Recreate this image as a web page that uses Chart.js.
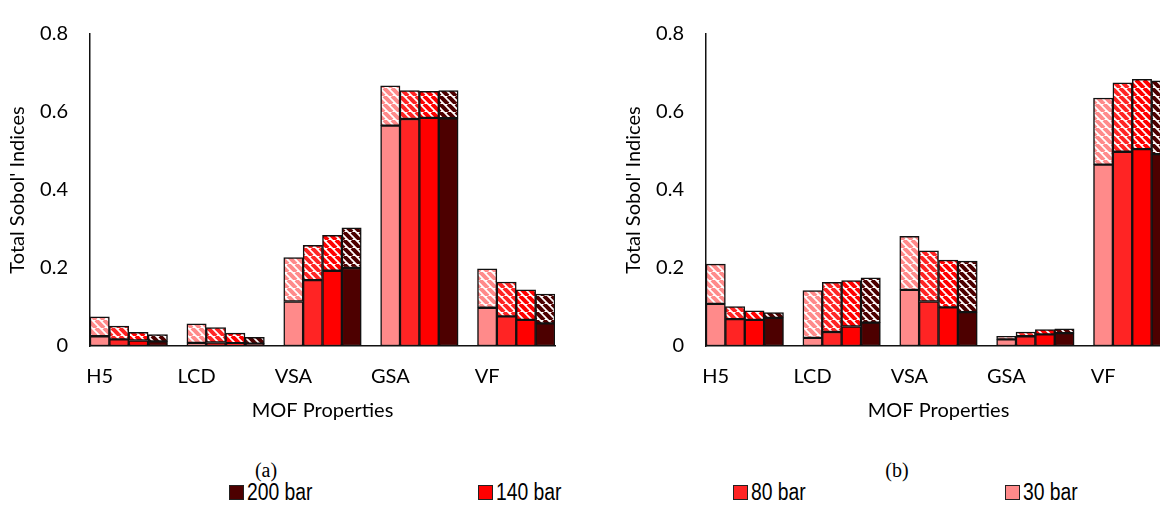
<!DOCTYPE html>
<html>
<head>
<meta charset="utf-8">
<script src="https://cdn.jsdelivr.net/npm/chart.js@4/dist/chart.umd.min.js"></script>
<style>
  body { margin: 0; background: #fff; }
  #page { position: relative; width: 1160px; height: 531px; overflow: hidden; background: #fff; }
  .chart-box { position: absolute; top: 0; width: 575px; height: 430px; }
  .caption { position: absolute; top: 459px; font-family: "Liberation Serif", serif; font-size: 20px; color: #000; transform: translateX(-50%); }
  .legend-item { position: absolute; top: 478px; height: 28px; display: flex; align-items: center;
                 font-family: "Liberation Sans", sans-serif; font-size: 23px; color: #000; }
  .legend-item span.sw { display: inline-block; width: 13px; height: 13px; border: 1.5px solid #222; margin-right: 3px; }
  .legend-item span.tx { display: inline-block; transform: scaleX(0.84); transform-origin: left center; }
</style>
</head>
<body>
<div id="page">
  <div class="chart-box" style="left:0px"><canvas id="chartA"></canvas></div>
  <div class="chart-box" style="left:616px"><canvas id="chartB"></canvas></div>
  <div class="caption" style="left:266px">(a)</div>
  <div class="caption" style="left:897px">(b)</div>
  <div id="legend"></div>
</div>
<script>
// ------------------------------------------------------------
//  Data
// ------------------------------------------------------------
const properties = ['H5', 'LCD', 'VSA', 'GSA', 'VF'];
const pressures  = ['30 bar', '80 bar', '140 bar', '200 bar'];
const colors     = ['#ff8a8a', '#ff2424', '#ff0000', '#4d0000'];
const yTicks     = [0, 0.2, 0.4, 0.6, 0.8];

// (a) — first-order part (solid) and total index (top of hatched part)
const a30First  = [0.025, 0.008, 0.114, 0.565, 0.098];
const a30Total  = [0.075, 0.057, 0.227, 0.667, 0.198];
const a80First  = [0.017, 0.009, 0.169, 0.582, 0.076];
const a80Total  = [0.051, 0.047, 0.258, 0.655, 0.164];
const a140First = [0.014, 0.007, 0.193, 0.585, 0.067];
const a140Total = [0.035, 0.033, 0.284, 0.653, 0.144];
const a200First = [0.012, 0.006, 0.200, 0.584, 0.058];
const a200Total = [0.029, 0.022, 0.303, 0.655, 0.133];

// (b)
const b30First  = [0.108, 0.021, 0.144, 0.017, 0.465];
const b30Total  = [0.210, 0.142, 0.281, 0.025, 0.636];
const b80First  = [0.069, 0.036, 0.114, 0.025, 0.498];
const b80Total  = [0.101, 0.163, 0.244, 0.036, 0.675];
const b140First = [0.067, 0.050, 0.099, 0.030, 0.505];
const b140Total = [0.090, 0.168, 0.220, 0.042, 0.684];
const b200First = [0.072, 0.060, 0.087, 0.033, 0.492];
const b200Total = [0.086, 0.175, 0.218, 0.044, 0.680];

// ------------------------------------------------------------
//  Helpers
// ------------------------------------------------------------
function hatch(color) {
  const c = document.createElement('canvas');
  c.width = 8; c.height = 8;
  const ctx = c.getContext('2d');
  ctx.fillStyle = '#fff';
  ctx.fillRect(0, 0, 8, 8);
  ctx.strokeStyle = color;
  ctx.lineWidth = 4;
  [-8, 0, 8].forEach((o) => {
    ctx.beginPath();
    ctx.moveTo(o, 0);
    ctx.lineTo(o + 8, 8);
    ctx.stroke();
  });
  return ctx.createPattern(c, 'repeat');
}

// one slot per bar, an empty slot between property groups
function toSlots(perPressure, fill) {
  const out = [];
  properties.forEach((p, i) => {
    perPressure.forEach((v, k) => out.push(fill(v, i, k)));
    if (i < properties.length - 1) out.push(null);
  });
  return out;
}

const slotLabels = toSlots(pressures, (v, i, k) => (k === 0 ? properties[i] : ''));
const solidColors = toSlots(colors, (c) => c);
const hatchColors = toSlots(colors, (c) => hatch(c));

const tickFont = { family: 'Lato', size: 20 };

function buildChart(id, firsts, totals) {
  const first = toSlots(firsts, (arr, i) => arr[i]);
  const rest  = toSlots(firsts, (arr, i, k) => +(totals[k][i] - arr[i]).toFixed(3));

  return new Chart(document.getElementById(id), {
    type: 'bar',
    data: {
      labels: slotLabels,
      datasets: [
        { data: first, backgroundColor: solidColors, borderColor: '#111', borderWidth: 1.5, borderSkipped: false },
        { data: rest,  backgroundColor: hatchColors, borderColor: '#111', borderWidth: 1.5, borderSkipped: false }
      ]
    },
    options: {
      responsive: true,
      maintainAspectRatio: false,
      animation: false,
      devicePixelRatio: 1,
      layout: { padding: { left: 0, right: 20, top: 25, bottom: 0 } },
      datasets: { bar: { barPercentage: 1, categoryPercentage: 1 } },
      plugins: { legend: { display: false }, tooltip: { enabled: false } },
      scales: {
        x: {
          stacked: true,
          grid: { display: false, drawTicks: false },
          border: { color: '#111', width: 1.5 },
          ticks: { font: tickFont, color: '#000', autoSkip: false, maxRotation: 0, padding: 19 },
          title: { display: true, text: 'MOF Properties', font: tickFont, color: '#000', padding: { top: 0, bottom: 7 } },
          afterFit: (s) => { s.height = 84; }
        },
        y: {
          stacked: true,
          min: 0, max: 0.8,
          afterBuildTicks: (s) => { s.ticks = yTicks.map((v) => ({ value: v })); },
          grid: { display: false, drawTicks: false },
          border: { color: '#111', width: 1.5 },
          ticks: { font: tickFont, color: '#000', padding: 22,
                   callback: (v) => (v === 0 ? '0' : v.toFixed(1)) },
          title: { display: true, text: "Total Sobol' Indices", font: tickFont, color: '#000', padding: { top: 6, bottom: 0 } },
          afterFit: (s) => { s.width = 90; }
        }
      }
    }
  });
}

buildChart('chartA',
  [a30First, a80First, a140First, a200First],
  [a30Total, a80Total, a140Total, a200Total]);
buildChart('chartB',
  [b30First, b80First, b140First, b200First],
  [b30Total, b80Total, b140Total, b200Total]);

// ------------------------------------------------------------
//  Legend (reverse order, as in the figure)
// ------------------------------------------------------------
const legendX = [229, 478, 733, 1005];
const legend = document.getElementById('legend');
[3, 2, 1, 0].forEach((k, n) => {
  const d = document.createElement('div');
  d.className = 'legend-item';
  d.style.left = legendX[n] + 'px';
  d.innerHTML = '<span class="sw" style="background:' + colors[k] + '"></span><span class="tx">' + pressures[k] + '</span>';
  legend.appendChild(d);
});
</script>
</body>
</html>
